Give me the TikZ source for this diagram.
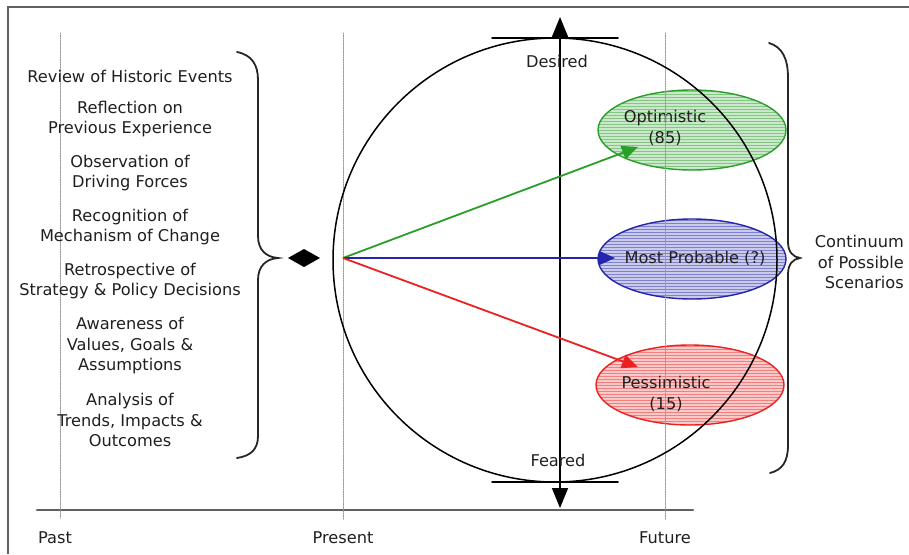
\documentclass[tikz,border=0pt]{standalone}
\usepackage{fontspec}
\setmainfont{DejaVu Sans}
\usetikzlibrary{arrows.meta,shapes.geometric,patterns,calc}
\usepackage{tkz-euclide}
\definecolor{OptClr}{rgb}{0.16,0.62,0.16}
\definecolor{ProbClr}{rgb}{0.14,0.14,0.68}
\definecolor{PessClr}{rgb}{0.92,0.13,0.13}
\definecolor{LineClr}{gray}{0.38}
\definecolor{TxtClr}{gray}{0.12}

\tikzset{
  scen/.style={ellipse,draw=#1,line width=1.4pt,minimum width=188pt,minimum height=80pt,
    inner sep=0pt,preaction={fill=#1!24},pattern=horizontal lines,pattern color=#1!58},
  txt/.style={font=\fontsize{16.2}{20.5}\selectfont,align=center,inner sep=0pt,text=TxtClr},
  brace/.style={line width=1.8pt,color=black!85,line cap=round},
  era/.style={line width=1pt,color=gray!80,dash pattern=on 1.2pt off 1.2pt},
  move/.style={line width=1.8pt,-{Triangle[length=16pt,width=14pt]}}
}

\begin{document}
\begin{tikzpicture}[x=1pt,y=-1pt]
\useasboundingbox (0,0) rectangle (909,554);

\tkzDefPoints{555/260/O,555/38/T,492/38/T1,618/38/T2,492/482/B1,618/482/B2}%
\tkzDefPoints{560/17/Up,560/508/Dn,560/260/M,343/258/P}%
\tkzDefPoints{60/33/Pa1,60/518/Pa2,343/33/Pr1,343/520/Pr2,665/33/Fu1,665/520/Fu2}%
\tkzDefPoints{37/510/L1,693/510/L2,8/554/F1,8/7/F2,909/7/F3}%

% scenarios
\node[scen=OptClr] (opt) at (692,130) {};
\node[scen=ProbClr] (prob) at (692,259) {};
\node[scen=PessClr] (pess) at (690,385) {};
\node[txt] (optTxt) at (665,128) {Optimistic\\(85)};
\node[txt] (probTxt) at (695,258) {Most Probable (?)};
\node[txt] (pessTxt) at (666,394) {Pessimistic\\(15)};

% frame and time line
\draw[line width=2pt,color=LineClr] (F1) -- (F2) -- (F3);
\tkzDrawSegments[line width=2.2pt,color=LineClr](L1,L2)
\tkzDrawSegments[era](Pa1,Pa2 Pr1,Pr2 Fu1,Fu2)

% circle of futures
\tkzDrawCircle[line width=1.5pt,color=black](O,T)
\tkzDrawSegments[line width=1.5pt,color=black](T1,T2 B1,B2)
\draw[line width=1.6pt,{Triangle[length=20pt,width=16pt]}-{Triangle[length=20pt,width=16pt]}] (Dn) -- (Up);

\coordinate (optTip) at (638,147);
\coordinate (probTip) at (615,258);
\coordinate (pessTip) at (638,367);
\draw[move,color=OptClr] (P) -- (optTip);
\draw[move,color=ProbClr] (P) -- (probTip);
\draw[move,color=PessClr] (P) -- (pessTip);

\node[txt] (des) at (557,61) {Desired};
\node[txt] (fea) at (558,460) {Feared};

% braces
\draw[brace] (237,52) .. controls (252,55) and (258,65) .. (258,80) -- (258,236)
  .. controls (258,250) and (266,257) .. (278,258)
  .. controls (266,259) and (258,266) .. (258,280) -- (258,436)
  .. controls (258,450) and (250,456) .. (237,458);
\draw[brace] (769,43) .. controls (782,47) and (788,58) .. (788,78) -- (788,242)
  .. controls (788,252) and (793,257) .. (800,258)
  .. controls (793,259) and (788,264) .. (788,274) -- (788,445)
  .. controls (788,462) and (782,470) .. (770,473);
\fill (288,258) -- (304,249) -- (320,258) -- (304,267) -- cycle;

% retrospective
\node[txt] (rev) at (130,76) {Review of Historic Events};
\node[txt] (refl) at (130,119) {Reflection on\\Previous Experience};
\node[txt] (obs) at (130,173) {Observation of\\Driving Forces};
\node[txt] (recog) at (130,227) {Recognition of\\Mechanism of Change};
\node[txt] (retro) at (130,281) {Retrospective of\\Strategy \& Policy Decisions};
\node[txt] (aware) at (130,346) {Awareness of\\Values, Goals \&\\Assumptions};
\node[txt] (anal) at (130,420) {Analysis of\\Trends, Impacts \&\\Outcomes};

\node[txt,align=right,anchor=east] (cont) at (904,262) {Continuum\\of Possible\\Scenarios};

\node[txt] (past) at (55,538) {Past};
\node[txt] (pres) at (343,538) {Present};
\node[txt] (fut) at (665,538) {Future};
\end{tikzpicture}
\end{document}
